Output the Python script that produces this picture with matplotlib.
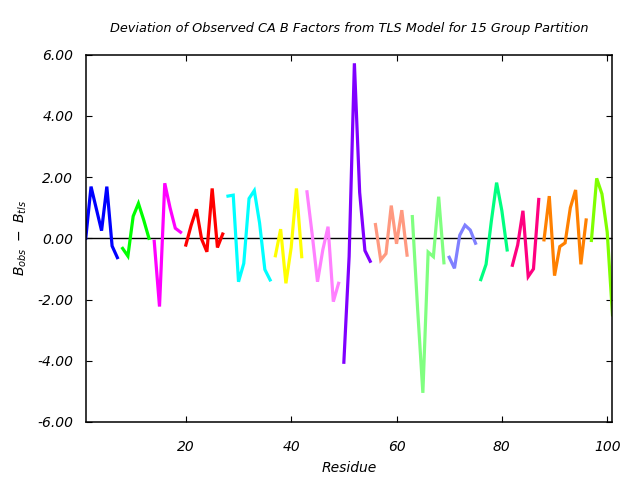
import numpy as np
import matplotlib
matplotlib.use('Agg')
import matplotlib.pyplot as plt

# Data: deviation of observed CA B factors from TLS model, per residue
residues = np.arange(1, 102)
bdev = [
    0.0, 1.69, 0.97, 0.25, 1.69, -0.25, -0.63,           # group 1
    -0.33, -0.58, 0.72, 1.14, 0.6, 0.0,                   # group 2
    -0.1, -2.23, 1.8, 1.0, 0.33, 0.2,                     # group 3
    -0.22, 0.42, 0.95, -0.03, -0.44, 1.63, -0.3, 0.14,    # group 4
    1.38, 1.41, -1.42, -0.82, 1.3, 1.56, 0.5, -1.02, -1.36,  # group 5
    -0.57, 0.3, -1.47, -0.3, 1.63, -0.6,                  # group 6
    1.52, 0.11, -1.42, -0.38, 0.38, -2.07, -1.47,         # group 7
    -4.05, -0.6, 5.72, 1.5, -0.4, -0.75,                  # group 8
    0.45, -0.71, -0.5, 1.07, -0.18, 0.92, -0.55,          # group 9
    0.71, -2.3, -5.05, -0.45, -0.6, 1.36, -0.8,           # group 10
    -0.62, -0.98, 0.1, 0.43, 0.27, -0.16,                 # group 11
    -1.35, -0.85, 0.56, 1.82, 0.9, -0.38,                 # group 12
    -0.88, -0.22, 0.9, -1.25, -1.0, 1.27,                 # group 13
    -0.05, 1.38, -1.22, -0.27, -0.15, 1.0, 1.58, -0.85, 0.6,  # group 14
    -0.07, 1.96, 1.45, 0.2, -2.5,                         # group 15
]
group_sizes = [7, 6, 6, 8, 9, 6, 7, 6, 7, 7, 6, 6, 6, 9, 5]
group_colors = ['#0000ff', '#00ff00', '#ff00ff', '#ff0000', '#00ffff',
                '#ffff00', '#ff80ff', '#8000ff', '#ff9980', '#80ff80',
                '#8080ff', '#00ff80', '#ff0080', '#ff8000', '#80ff00']

bdev = np.array(bdev)
bounds = np.cumsum([0] + group_sizes)

fig = plt.figure(figsize=(6.4, 4.8), dpi=100)
ax = fig.add_subplot(111)
fig.subplots_adjust(left=0.134, right=0.957, bottom=0.121, top=0.886)

ax.axhline(0, color='black', lw=1.0, zorder=1)
for i, c in enumerate(group_colors):
    s, e = bounds[i], bounds[i + 1]
    ax.plot(residues[s:e], bdev[s:e], color=c, lw=2.3, zorder=2,
            solid_joinstyle='miter')

ax.set_xlim(1, 101)
ax.set_ylim(-6, 6)
ax.set_xticks([20, 40, 60, 80, 100])
ax.set_yticks(np.arange(-6, 7, 2))
ax.set_yticklabels(['%.2f' % v for v in np.arange(-6, 7, 2)])

font = dict(family='DejaVu Sans', style='italic', size=10)
for lab in ax.get_xticklabels() + ax.get_yticklabels():
    lab.set_fontstyle('italic')
    lab.set_fontsize(10)
ax.tick_params(direction='in', length=4.5, width=0.8, top=True, right=True)
ax.tick_params(axis='y', pad=9)
ax.tick_params(axis='x', pad=13)
for sp in ax.spines.values():
    sp.set_linewidth(1.1)

ax.set_title('Deviation of Observed CA B Factors from TLS Model for 15 Group Partition',
             family='DejaVu Sans', style='italic', size=9.3, pad=16)
ax.set_xlabel('Residue', fontdict=font, labelpad=5)
ax.set_ylabel(r'$\mathit{B_{obs}}\ -\ \mathit{B_{tls}}$', fontsize=10, labelpad=6)

fig.savefig('out.png', dpi=100)
